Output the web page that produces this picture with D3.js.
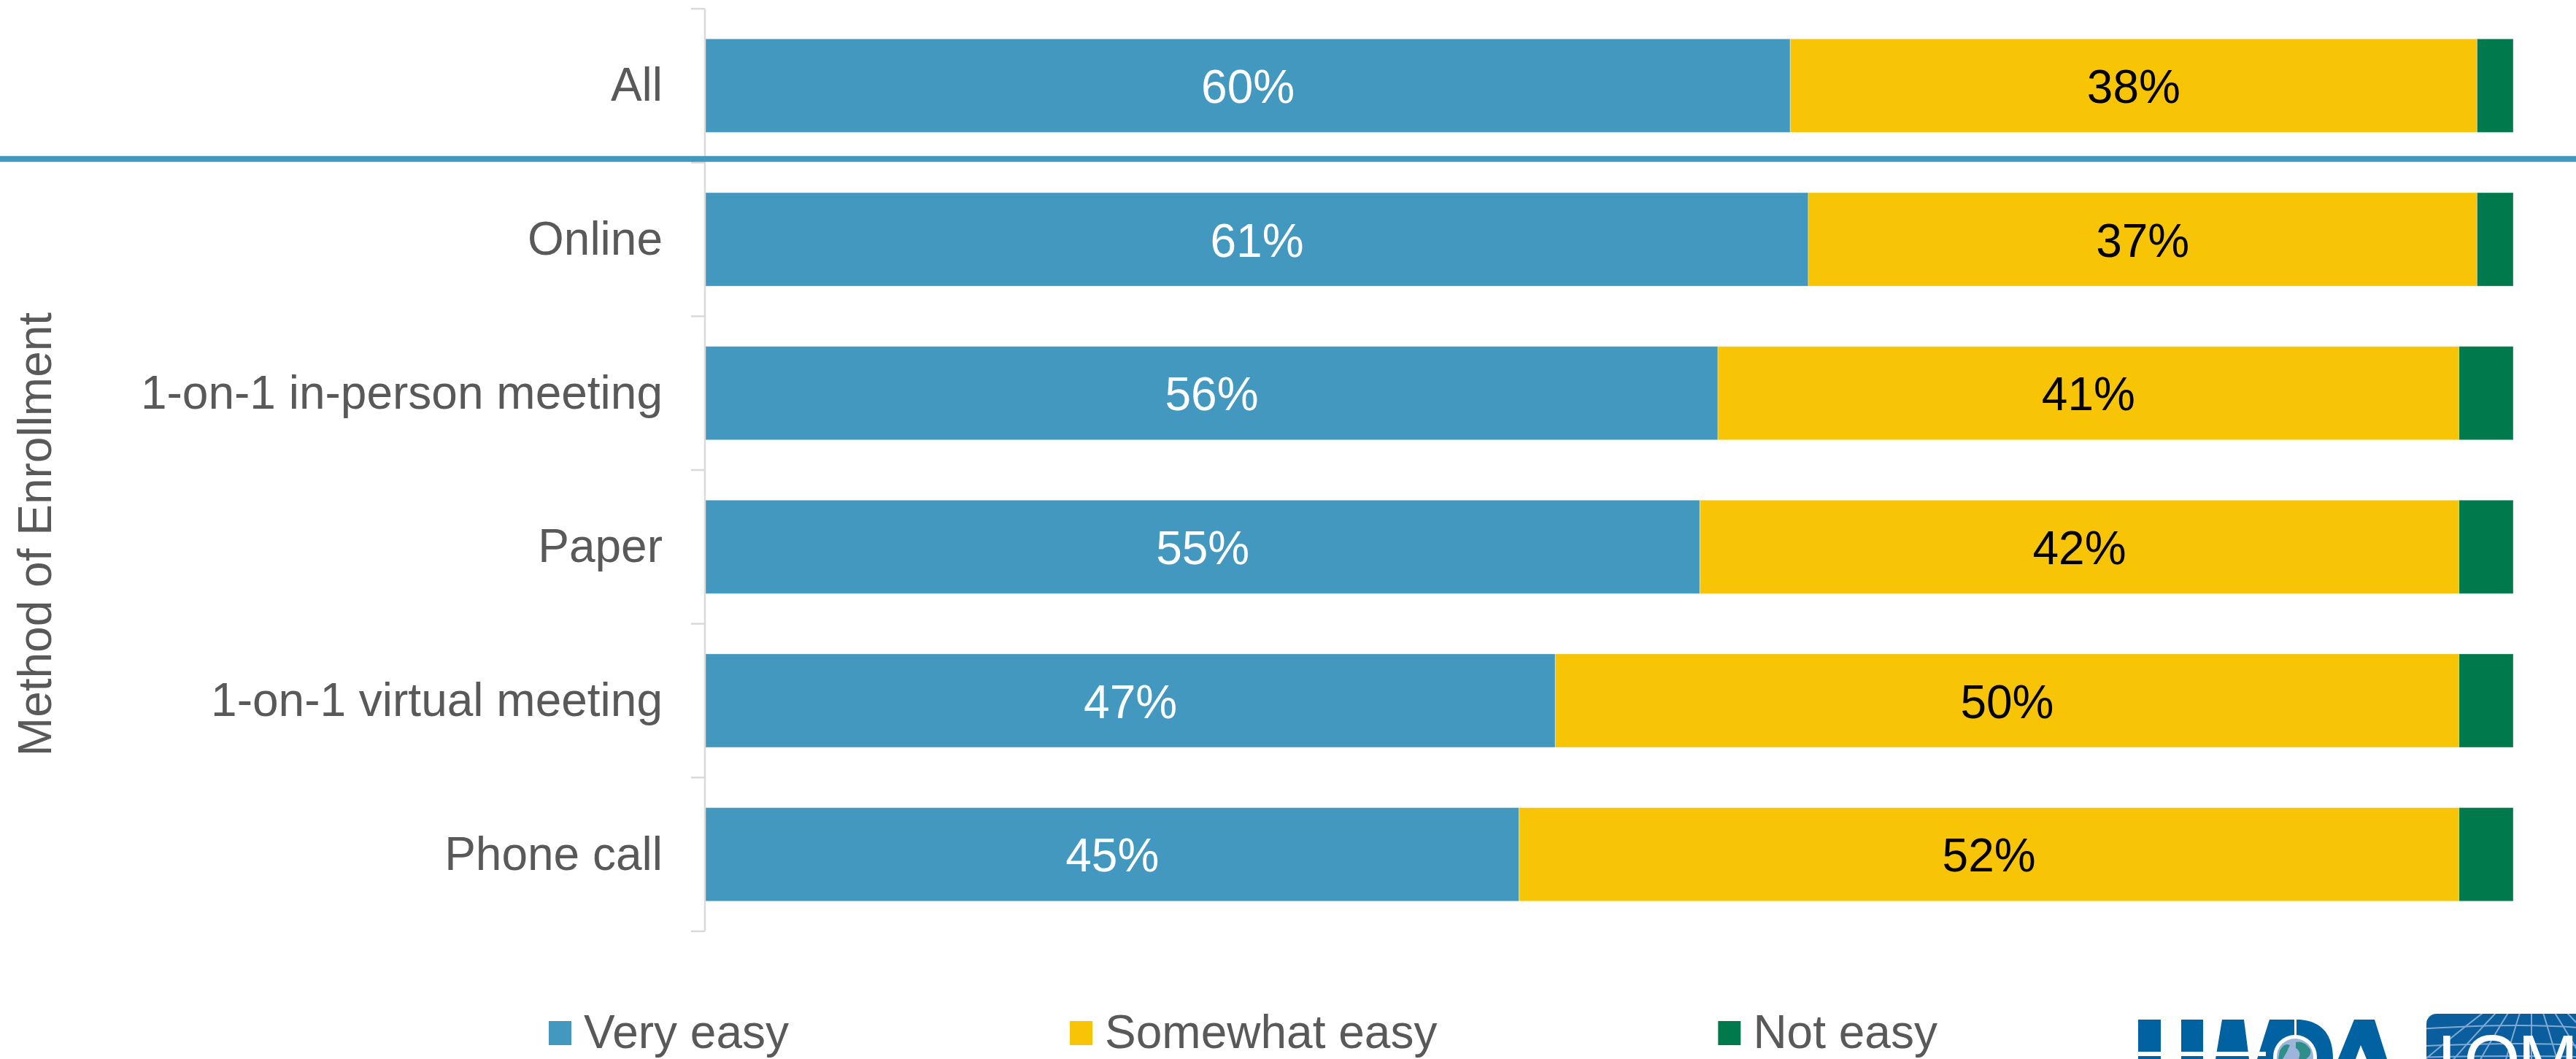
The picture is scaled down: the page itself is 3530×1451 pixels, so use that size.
<!DOCTYPE html>
<html>
<head>
<meta charset="utf-8">
<script src="https://cdn.jsdelivr.net/npm/d3@7"></script>
<style>
  html, body { margin: 0; padding: 0; background: #ffffff; }
  svg { display: block; }
  text { font-family: "Liberation Sans", Arial, sans-serif; }
</style>
</head>
<body>
<svg id="chart" width="3530" height="1451"></svg>
<script>
// Ease of enrollment by method of enrollment (percent of respondents)
const categories = ["All", "Online", "1-on-1 in-person meeting", "Paper", "1-on-1 virtual meeting", "Phone call"];
const veryEasy     = [60, 61, 56, 55, 47, 45];
const somewhatEasy = [38, 37, 41, 42, 50, 52];
const notEasy      = [2, 2, 3, 3, 3, 3];
const seriesNames  = ["Very easy", "Somewhat easy", "Not easy"];
const axisTitle    = "Method of Enrollment";

const colors = ["#4398C0", "#F7C505", "#007A4D"];
const labelColors = ["#ffffff", "#000000", null];
const textGrey = "#595959";

const W = 3530, H = 1451;
const svg = d3.select("#chart");

const plot = { left: 967, right: 3444, top: 12, bottom: 1276 };

const x = d3.scaleLinear().domain([0, 100]).range([plot.left, plot.right]);
const y = d3.scaleBand()
  .domain(categories)
  .range([plot.top, plot.bottom])
  .paddingInner(0.392)
  .paddingOuter(0.196);

// stacked rows
const rows = categories.map((c, i) => ({ cat: c, v0: veryEasy[i], v1: somewhatEasy[i], v2: notEasy[i] }));
const stack = d3.stack().keys(["v0", "v1", "v2"]);
const layers = stack(rows);

// category axis: line with ticks between bands
const step = y.step();
const boundaries = d3.range(categories.length + 1).map(i => plot.top + i * step);
const axisG = svg.append("g");
axisG.append("line")
  .attr("x1", plot.left - 1).attr("x2", plot.left - 1)
  .attr("y1", plot.top).attr("y2", plot.bottom)
  .attr("stroke", "#D9D9D9").attr("stroke-width", 2.5);
axisG.selectAll("line.tick").data(boundaries).join("line")
  .attr("class", "tick")
  .attr("x1", plot.left - 20).attr("x2", plot.left - 1)
  .attr("y1", d => d).attr("y2", d => d)
  .attr("stroke", "#D9D9D9").attr("stroke-width", 2.5);

// category labels
svg.append("g").selectAll("text").data(categories).join("text")
  .attr("x", 908)
  .attr("y", d => y(d) + y.bandwidth() / 2)
  .attr("dy", "0.33em")
  .attr("text-anchor", "end")
  .attr("font-size", 64)
  .attr("fill", textGrey)
  .text(d => d);

// bars
const barsG = svg.append("g");
layers.forEach((layer, li) => {
  barsG.append("g").selectAll("rect").data(layer).join("rect")
    .attr("x", d => x(d[0]))
    .attr("y", d => y(d.data.cat))
    .attr("width", d => x(d[1]) - x(d[0]))
    .attr("height", y.bandwidth())
    .attr("fill", colors[li])
    .attr("stroke", "#ffffff")
    .attr("stroke-opacity", 0.35)
    .attr("stroke-width", 1);
});

// value labels on the two wider segments
layers.forEach((layer, li) => {
  if (!labelColors[li]) return;
  barsG.append("g").selectAll("text").data(layer).join("text")
    .attr("x", d => (x(d[0]) + x(d[1])) / 2)
    .attr("y", d => y(d.data.cat) + y.bandwidth() / 2)
    .attr("dy", "0.37em")
    .attr("text-anchor", "middle")
    .attr("font-size", 64)
    .attr("fill", labelColors[li])
    .text(d => (d[1] - d[0]) + "%");
});

// divider between the overall row and the breakdown
const dividerY = boundaries[1] - 5;
svg.append("line")
  .attr("x1", 0).attr("x2", W)
  .attr("y1", dividerY).attr("y2", dividerY)
  .attr("stroke", colors[0]).attr("stroke-width", 8);

// axis title
svg.append("text")
  .attr("transform", `translate(70, ${(plot.top + plot.bottom) / 2 + 88}) rotate(-90)`)
  .attr("text-anchor", "middle")
  .attr("font-size", 64)
  .attr("fill", textGrey)
  .text(axisTitle);

// legend
const legend = svg.append("g");
let lx = 752;
seriesNames.forEach((name, i) => {
  legend.append("rect")
    .attr("x", lx).attr("y", 1399)
    .attr("width", 31).attr("height", 33)
    .attr("fill", colors[i]);
  const t = legend.append("text")
    .attr("x", lx + 48).attr("y", 1436)
    .attr("font-size", 64)
    .attr("fill", textGrey)
    .text(name);
  lx = lx + 48 + t.node().getComputedTextLength() + 385;
});

// sponsor marks along the bottom edge
const logo = svg.append("g");
const navy = "#0062A1";
// LIMRA letterforms
logo.append("rect").attr("x", 2930).attr("y", 1397).attr("width", 31).attr("height", 60).attr("fill", navy);
logo.append("rect").attr("x", 2989).attr("y", 1397).attr("width", 30).attr("height", 60).attr("fill", navy);
logo.append("path").attr("d", "M3045,1397 L3075,1397 L3082,1451 L3036,1451 Z").attr("fill", navy);
logo.append("path").attr("d", "M3110,1397 L3144,1397 L3144,1451 L3093,1451 Z").attr("fill", navy);
logo.append("path").attr("d", "M3147,1397 L3152,1397 Q3197,1401 3197,1451 L3147,1451 Z").attr("fill", navy);
logo.append("path").attr("d", "M3226,1397 L3254,1397 L3271,1451 L3243,1451 L3235,1432 L3228,1451 L3204,1451 Z").attr("fill", navy);
logo.append("rect").attr("x", 2925).attr("y", 1441).attr("width", 180).attr("height", 6).attr("fill", "#ffffff");
logo.append("circle").attr("cx", 3145).attr("cy", 1448).attr("r", 30).attr("fill", "#ffffff");
logo.append("circle").attr("cx", 3145).attr("cy", 1448).attr("r", 25).attr("fill", "#9DB5DA");
logo.append("path").attr("d", "M3124,1440 Q3130,1428 3138,1432 Q3134,1442 3128,1451 L3122,1451 Z").attr("fill", "#2E8F8A");
logo.append("path").attr("d", "M3146,1428 Q3158,1425 3166,1438 Q3168,1446 3160,1451 L3150,1451 Q3154,1440 3146,1436 Z").attr("fill", "#2E8F8A");

// LOMA badge
const badge = svg.append("g");
badge.append("clipPath").attr("id", "badgeClip")
  .append("rect").attr("x", 3325).attr("y", 1389).attr("width", 260).attr("height", 120).attr("rx", 14);
const bg = badge.append("g").attr("clip-path", "url(#badgeClip)");
bg.append("rect").attr("x", 3325).attr("y", 1389).attr("width", 260).attr("height", 120).attr("fill", "#0B5E9D");
const grid = "#7FA9D2";
[1405, 1430, 1447].forEach((gy, k) => {
  bg.append("path")
    .attr("d", `M3300,${gy + 6 - k * 2} Q3470,${gy - 6 + k * 2} 3560,${gy + 6 - k * 2}`)
    .attr("fill", "none").attr("stroke", grid).attr("stroke-width", 2);
});
[-150, -110, -72, -36, 0, 36, 72, 110].forEach(off => {
  bg.append("path")
    .attr("d", `M3469,1340 Q${3469 + off * 0.6},1400 ${3469 + off * 1.5},1520`)
    .attr("fill", "none").attr("stroke", grid).attr("stroke-width", 2);
});
bg.append("text")
  .attr("x", "3340 3376 3450 3540")
  .attr("y", 1488)
  .attr("font-family", "'Liberation Serif', 'DejaVu Serif', serif")
  .attr("font-size", 100)
  .attr("fill", "#ffffff")
  .text("LOMA");
</script>
</body>
</html>
